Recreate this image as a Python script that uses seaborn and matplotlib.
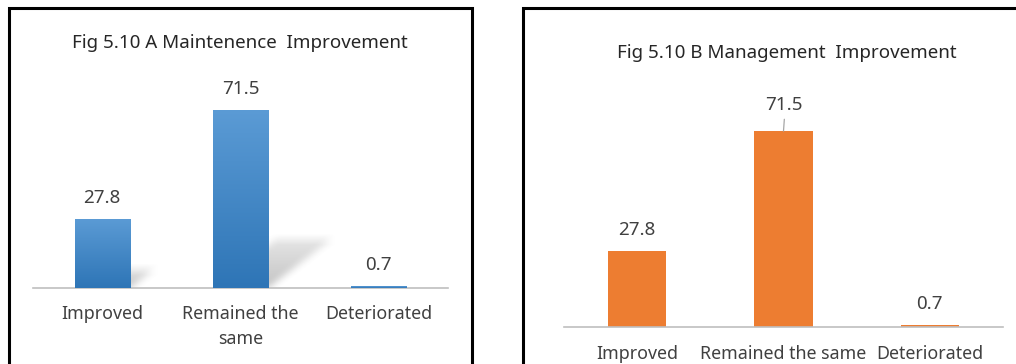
import numpy as np
import pandas as pd
import seaborn as sns
import matplotlib
matplotlib.use("Agg")
import matplotlib.pyplot as plt
from matplotlib.patches import Rectangle

# Survey results (percent of respondents)
categories_a = ["Improved", "Remained the\nsame", "Deteriorated"]
categories_b = ["Improved", "Remained the same", "Deteriorated"]
maintenance = [27.8, 71.5, 0.7]
management = [27.8, 71.5, 0.7]
title_a = "Fig 5.10 A Maintenence  Improvement"
title_b = "Fig 5.10 B Management  Improvement"

sns.set_theme(style="white")
plt.rcParams["font.family"] = ["Noto Sans", "DejaVu Sans"]

W, H = 1016, 364
fig = plt.figure(figsize=(W / 100, H / 100), dpi=100)
fig.patch.set_facecolor("white")

TITLE_FS = 13.5
VALUE_FS = 13.5
CAT_FS = 12.8


def px_axes(x0, y_base, x1, y_top):
    """Axes placed from pixel coordinates (origin at top-left)."""
    return fig.add_axes([x0 / W, (H - y_base) / H, (x1 - x0) / W, (y_base - y_top) / H])


def frame(x0, y0, x1, y1):
    fig.patches.append(Rectangle((x0 / W, (H - y1) / H), (x1 - x0) / W, (y1 - y0) / H,
                                 transform=fig.transFigure, fill=False,
                                 edgecolor="black", linewidth=2.2, zorder=0))


# panel frames
frame(9, 8, 472, 380)
frame(523, 8, 1030, 380)

YMAX = 80
label_color = "#404040"
title_color = "#262626"


def style_axes(ax):
    ax.set_xlim(-0.5, 2.5)
    ax.set_ylim(0, YMAX)
    sns.despine(ax=ax, left=True, top=True, right=True, bottom=False)
    ax.spines["bottom"].set_color("#BFBFBF")
    ax.spines["bottom"].set_linewidth(1.2)
    ax.set_yticks([])
    ax.set_xlabel("")
    ax.set_ylabel("")
    ax.patch.set_alpha(0)
    ax.tick_params(axis="x", length=0, labelsize=CAT_FS, labelcolor=label_color)


def box_blur(a, k):
    ker = np.ones(k) / k
    a = np.apply_along_axis(lambda r: np.convolve(r, ker, mode="same"), 1, a)
    a = np.apply_along_axis(lambda c: np.convolve(c, ker, mode="same"), 0, a)
    return a


def add_shadow(ax, patch, px_per_x, px_per_y):
    x0 = patch.get_x()
    w = patch.get_width()
    h = patch.get_height()
    h_px = h * px_per_y
    dx = 0.35 * h_px / px_per_x
    hs = 0.27 * h
    if hs <= 0.5:
        return
    ex0, ex1 = x0, x0 + w + dx + 0.2
    ey0, ey1 = 0, hs * 1.4
    nx = int((ex1 - ex0) * px_per_x)
    ny = int((ey1 - ey0) * px_per_y)
    xs = np.linspace(ex0, ex1, nx)
    ys = np.linspace(ey1, ey0, ny)
    X, Y = np.meshgrid(xs, ys)
    t = Y / hs
    inside = (t <= 1) & (X >= x0 + t * dx) & (X <= x0 + w + t * dx)
    alpha = np.where(inside, 0.42 * (1 - 0.55 * t), 0.0)
    alpha = box_blur(alpha, 11)
    rgba = np.zeros((ny, nx, 4))
    rgba[..., :3] = 0.45
    rgba[..., 3] = np.clip(alpha, 0, 1)
    ax.imshow(rgba, extent=(ex0, ex1, ey0, ey1), aspect="auto", zorder=1,
              interpolation="bilinear")


def gradient_fill(ax, patch, top, bottom):
    x0, w, h = patch.get_x(), patch.get_width(), patch.get_height()
    c_top = np.array(matplotlib.colors.to_rgb(top))
    c_bot = np.array(matplotlib.colors.to_rgb(bottom))
    s = np.linspace(0, 1, 128)[:, None]
    grad = (c_top[None, :] * (1 - s) + c_bot[None, :] * s)[:, None, :]
    im = ax.imshow(grad, extent=(x0, x0 + w, 0, h), aspect="auto", zorder=3,
                   interpolation="bilinear")
    im.set_clip_path(patch)


# ---- Panel A: maintenance ----
ax_a = px_axes(33, 288, 448, 288 - YMAX * 2.49)
df_a = pd.DataFrame({"cat": categories_a, "val": maintenance})
sns.barplot(data=df_a, x="cat", y="val", ax=ax_a, color="#3A85C8", width=0.4,
            saturation=1, zorder=2)
style_axes(ax_a)
for p in list(ax_a.patches):
    p.set_edgecolor("none")
    add_shadow(ax_a, p, 138.3, 2.49)
    gradient_fill(ax_a, p, "#5B9BD5", "#2E75B6")
ax_a.set_xlim(-0.5, 2.5)
ax_a.set_ylim(0, YMAX)
for i, v in enumerate(maintenance):
    ax_a.annotate(f"{v}", (i, v), xytext=(0, 15), textcoords="offset points",
                  ha="center", va="center", fontsize=VALUE_FS, color=label_color)
ax_a.set_xticks(range(len(categories_a)))
ax_a.set_xticklabels(categories_a, linespacing=1.5, va="top")
ax_a.tick_params(axis="x", pad=12.5)
fig.text(240 / W, 1 - 43 / H, title_a, ha="center", va="center",
         fontsize=TITLE_FS, color=title_color)

# ---- Panel B: management ----
ax_b = px_axes(564, 327, 1003, 327 - YMAX * 2.74)
df_b = pd.DataFrame({"cat": categories_b, "val": management})
sns.barplot(data=df_b, x="cat", y="val", ax=ax_b, color="#ED7D31", width=0.4,
            saturation=1, zorder=2)
style_axes(ax_b)
for p in ax_b.patches:
    p.set_edgecolor("none")
for i, v in enumerate(management):
    off = 19 if i == 1 else 15
    ax_b.annotate(f"{v}", (i, v), xytext=(0, off), textcoords="offset points",
                  ha="center", va="center", fontsize=VALUE_FS, color=label_color)
# leader line for the tallest label
ax_b.annotate("", xy=(1, management[1]), xytext=(0.6, 8.5),
              textcoords="offset points",
              arrowprops=dict(arrowstyle="-", color="#A6A6A6", lw=0.9,
                              shrinkA=0, shrinkB=0))
ax_b.set_xticks(range(len(categories_b)))
ax_b.set_xticklabels(categories_b)
ax_b.tick_params(axis="x", pad=13)
fig.text(787 / W, 1 - 53 / H, title_b, ha="center", va="center",
         fontsize=TITLE_FS, color=title_color)

fig.savefig("out.png", dpi=100, facecolor="white")
